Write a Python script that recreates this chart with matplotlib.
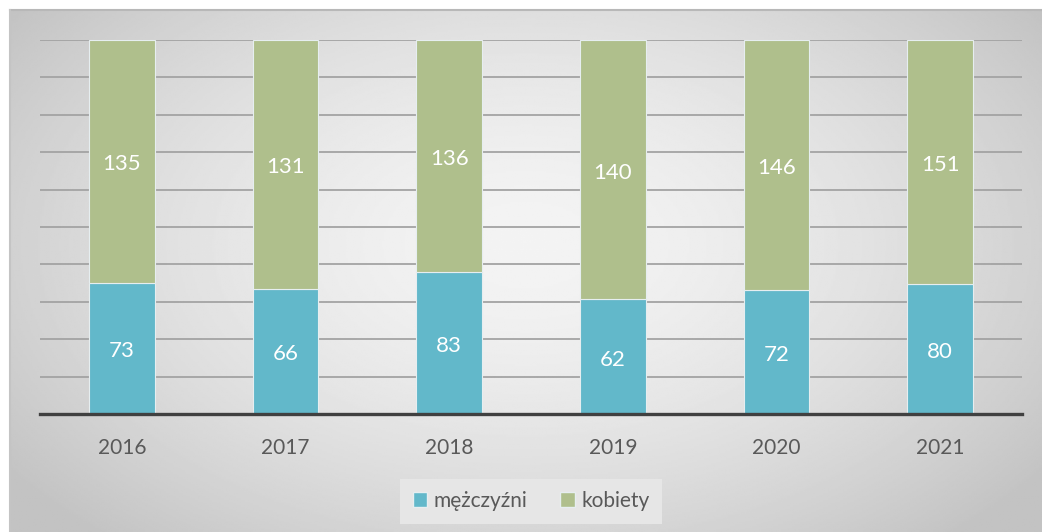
import numpy as np
import matplotlib
matplotlib.use("Agg")
import matplotlib.pyplot as plt
from matplotlib.patches import Patch

plt.rcParams['font.family'] = ['Lato', 'DejaVu Sans']

years = ['2016', '2017', '2018', '2019', '2020', '2021']
men = [73, 66, 83, 62, 72, 80]
women = [135, 131, 136, 140, 146, 151]
labels = ['mężczyźni', 'kobiety']

c_men = '#62B8CA'
c_women = '#AFBF8C'
text_col = '#595959'

W, H = 1042, 532
fig = plt.figure(figsize=(W / 100, H / 100), dpi=100)
fig.patch.set_facecolor('white')

# radial gradient background panel
bg = fig.add_axes([10 / W, 0, (W - 10) / W, (H - 10) / H])
yy, xx = np.mgrid[0:1:300j, 0:1:600j]
r = np.sqrt(((xx - 0.5) / 0.62) ** 2 + ((yy - 0.45) / 0.75) ** 2)
r = np.clip(r, 0, 1)
shade = 0.955 - 0.19 * r ** 1.6
bg.imshow(shade, cmap='gray', vmin=0, vmax=1, aspect='auto', extent=[0, 1, 0, 1], origin='upper')
bg.set_xlim(0, 1)
bg.set_ylim(0, 1)
bg.axis('off')
bg.plot([0, 1], [1, 1], color='#B8B8B8', lw=1.5, transform=bg.transAxes, clip_on=False)
bg.plot([0, 0], [0, 1], color='#C4C4C4', lw=1.5, transform=bg.transAxes, clip_on=False)

ax = fig.add_axes([40 / W, 118 / H, 982 / W, 374 / H])
ax.set_facecolor('none')

men = np.array(men, dtype=float)
women = np.array(women, dtype=float)
tot = men + women
pm = men / tot * 100
pw = women / tot * 100
x = np.arange(len(years))

ax.bar(x, pm, width=0.4, color=c_men, edgecolor='#E6EEF0', linewidth=0.8, zorder=3)
ax.bar(x, pw, bottom=pm, width=0.4, color=c_women, edgecolor='#E6EEF0', linewidth=0.8, zorder=3)

for i in range(len(years)):
    ax.text(x[i], pm[i] / 2 - 0.8, f'{int(men[i])}', ha='center', va='center',
            color='white', fontsize=16, zorder=4)
    ax.text(x[i], pm[i] + pw[i] / 2 - 0.8, f'{int(women[i])}', ha='center', va='center',
            color='white', fontsize=16, zorder=4)

ax.set_xlim(-0.5, len(years) - 0.5)
ax.set_ylim(0, 100)
ax.set_yticks(np.arange(10, 101, 10))
ax.yaxis.grid(True, color='#A3A3A3', linewidth=1.3, zorder=0)
ax.set_axisbelow(True)
ax.tick_params(axis='y', left=False, labelleft=False)
ax.tick_params(axis='x', bottom=False, labelsize=15, labelcolor=text_col, pad=14)
ax.set_xticks(x)
ax.set_xticklabels(years)
for s in ['top', 'right', 'left']:
    ax.spines[s].set_visible(False)
ax.spines['bottom'].set_color('#404040')
ax.spines['bottom'].set_linewidth(2.4)
ax.spines['bottom'].set_zorder(5)

handles = [Patch(facecolor=c_men, edgecolor='#E6EEF0'), Patch(facecolor=c_women, edgecolor='#E6EEF0')]
leg = fig.legend(handles, labels, loc='center', bbox_to_anchor=(531 / W, 31 / H), ncol=2,
                 fontsize=15, frameon=True, fancybox=False, handlelength=0.7, handleheight=0.7,
                 handletextpad=0.3, columnspacing=1.6, borderpad=0.6)
leg.get_frame().set_facecolor('#E6E6E6')
leg.get_frame().set_edgecolor('none')
leg.get_frame().set_alpha(1)
for t in leg.get_texts():
    t.set_color(text_col)

fig.savefig('out.png', dpi=100)
